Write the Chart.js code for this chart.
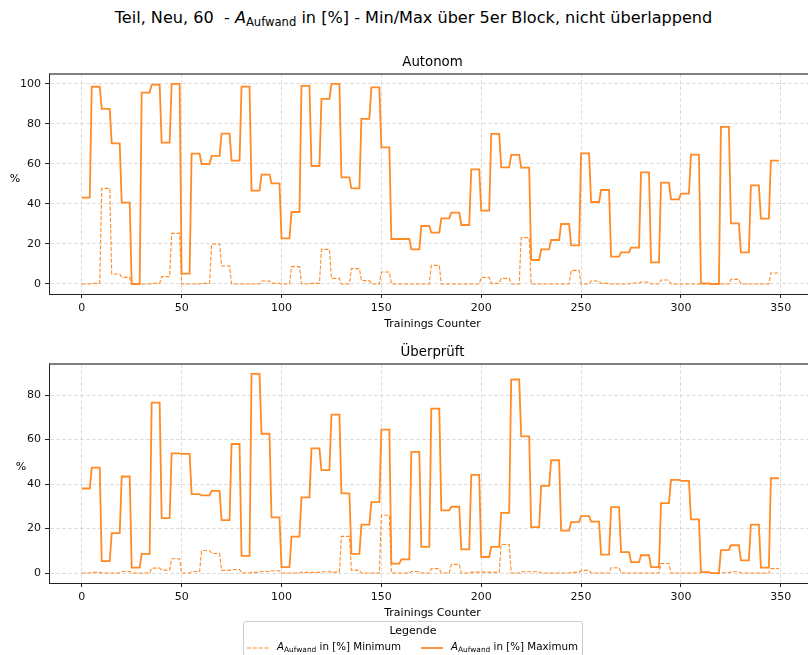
<!DOCTYPE html>
<html>
<head>
<meta charset="utf-8">
<script src="https://cdn.jsdelivr.net/npm/chart.js@4.4.1/dist/chart.umd.min.js"></script>
<style>
  html, body { margin: 0; padding: 0; background: #fff; }
  body { width: 808px; height: 655px; overflow: hidden; position: relative;
         font-family: "DejaVu Sans", sans-serif; color: #000; }
  sub { font-size: 0.72em; vertical-align: -0.28em; line-height: 0; }
  .haupttitel { position: absolute; top: 8px; left: 0; width: 827px; text-align: center;
                font-size: 16.1px; white-space: pre; }
  canvas { position: absolute; left: 0; }
  #autonom { top: 50px; }
  #geprueft { top: 340px; }
  .ylabel { position: absolute; font-size: 11px; transform: translate(-50%, -50%); }
  .legende { position: absolute; left: 243px; top: 621px; width: 338px; height: 50px;
             border: 1px solid #ccc; border-radius: 3px; background: #fff; font-size: 10.3px; }
  .legende .titel { position: absolute; left: 0; width: 100%; top: 2px; text-align: center; font-size: 11px; }
  .legende .eintrag { position: absolute; top: 18px; white-space: nowrap; }
  .legende svg { position: absolute; top: 24px; }
</style>
</head>
<body>
<div class="haupttitel">Teil, Neu, 60  - <i>A</i><sub>Aufwand</sub> in [%] - Min/Max über 5er Block, nicht überlappend</div>

<canvas id="autonom" width="816" height="290"></canvas>
<canvas id="geprueft" width="816" height="289"></canvas>

<span class="ylabel" style="left:15px; top:178px;">%</span>
<span class="ylabel" style="left:21px; top:466px;">%</span>

<div class="legende">
  <div class="titel">Legende</div>
  <svg style="left:3px" width="22" height="4"><line x1="0" y1="2" x2="22" y2="2" stroke="#ff8a26" stroke-width="1.2" stroke-dasharray="4,1.8"/></svg>
  <span class="eintrag" style="left:33px"><i>A</i><sub>Aufwand</sub> in [%] Minimum</span>
  <svg style="left:177px" width="22" height="4"><line x1="0" y1="2" x2="22" y2="2" stroke="#ff8a26" stroke-width="1.8"/></svg>
  <span class="eintrag" style="left:207px"><i>A</i><sub>Aufwand</sub> in [%] Maximum</span>
</div>

<script>
// Min/Max je 5er Block (nicht überlappend), Blockstart bei 0, 5, 10, ...
const BLOCK = 5;

const autonomMax = [43.2, 98.6, 87.5, 70.3, 40.7, 0, 95.7, 99.7, 70.7, 100,
  5.2, 65.2, 60, 64, 75.2, 61.7, 98.7, 46.7, 54.7, 50.3,
  22.8, 36, 99, 59, 92.5, 100, 53.3, 47.8, 82.5, 98.3,
  68.3, 22.5, 22.5, 17.3, 29, 25.7, 32.8, 35.7, 29.5, 57.3,
  36.7, 75, 58.3, 64.5, 58.2, 12, 17.3, 22, 30, 19.3,
  65.3, 41, 47, 13.7, 15.8, 18.2, 55.8, 10.8, 50.7, 42.3,
  45.2, 64.7, 0.3, 0, 78.5, 30.3, 15.8, 49.3, 32.7, 61.7];

const autonomMin = [0, 0.3, 47.8, 5, 3.3, 0, 0, 0.3, 3.7, 25.3,
  0, 0, 0.3, 20, 9, 0, 0, 0, 1.5, 0.3,
  0, 8.7, 0, 0.3, 17.3, 2.8, 0, 7.7, 1.7, 0,
  6, 0, 0, 0, 0, 9.3, 0, 0, 0, 0,
  3.3, 0.3, 2.8, 0, 23.2, 0, 0, 0, 0, 6.8,
  0, 1.5, 0.3, 0, 0, 0.5, 1, 0, 2, 0,
  0, 0, 0, 0, 0, 2.3, 0, 0, 0, 5.5];

const geprueftMax = [38, 47.4, 5.4, 17.9, 43.4, 2.4, 8.6, 76.6, 24.7, 53.8,
  53.6, 35.5, 34.9, 36.9, 23.8, 58, 7.7, 89.5, 62.6, 25,
  2.7, 16.4, 34, 56, 46.3, 71.2, 35.8, 8.6, 21.8, 31.9,
  64.5, 4.2, 6.1, 54.5, 11.8, 73.9, 28.2, 29.8, 10.6, 44.1,
  7.2, 11.8, 27, 87, 61.4, 20.6, 39.2, 50.7, 19.1, 22.9,
  25.6, 23.1, 8.3, 29.6, 9.4, 4.9, 8, 2.7, 31.4, 41.9,
  41.4, 24.1, 0.4, 0, 10.3, 12.5, 5.7, 21.8, 2.4, 42.6];

const geprueftMin = [0, 0.3, 0, 0, 0.7, 0, 0, 2.2, 1.3, 6.4,
  0, 0.7, 10.1, 8.8, 1.2, 1.6, 0, 0.3, 0.7, 1,
  0, 0, 0.3, 0.3, 0.6, 0.4, 16.5, 1.3, 0, 0,
  26, 0, 0, 0.7, 0, 2, 0, 3.9, 0, 0.4,
  0.4, 0.3, 12.8, 0, 0.6, 0.6, 0, 0, 0, 0.3,
  1.2, 0, 0, 2.4, 0, 0, 0, 0, 4.3, 0,
  0, 0, 0.3, 0, 0.1, 0.6, 0, 0, 0, 2];

const xTicks = [0, 50, 100, 150, 200, 250, 300, 350];

const ORANGE = '#ff8a26';
const SCHRIFT = '"DejaVu Sans", sans-serif';

// jeder Blockwert gilt fuer alle 5 Trainings des Blocks
function blockPunkte(werte) {
  const punkte = [];
  werte.forEach((v, i) => {
    punkte.push({ x: i * BLOCK, y: v });
    punkte.push({ x: i * BLOCK + BLOCK - 1, y: v });
  });
  return punkte;
}

const obererRand = {
  id: 'obererRand',
  afterDraw(chart) {
    const { ctx, chartArea } = chart;
    ctx.save();
    ctx.strokeStyle = '#555';
    ctx.lineWidth = 1.4;
    ctx.beginPath();
    ctx.moveTo(chartArea.left, chartArea.top);
    ctx.lineTo(chartArea.right, chartArea.top);
    ctx.stroke();
    ctx.restore();
  }
};

function erstelleDiagramm(id, titel, minWerte, maxWerte, yMin, yMax) {
  const ctx = document.getElementById(id).getContext('2d');
  return new Chart(ctx, {
    type: 'line',
    data: {
      datasets: [
        {
          label: 'Minimum',
          data: blockPunkte(minWerte),
          borderColor: ORANGE,
          borderWidth: 1.1,
          borderDash: [4, 1.8],
          pointRadius: 0,
          tension: 0,
          fill: false,
          order: 1
        },
        {
          label: 'Maximum',
          data: blockPunkte(maxWerte),
          borderColor: ORANGE,
          borderWidth: 1.8,
          pointRadius: 0,
          tension: 0,
          fill: false,
          order: 0
        }
      ]
    },
    options: {
      responsive: false,
      animation: false,
      layout: { padding: 0 },
      plugins: {
        legend: { display: false },
        tooltip: { enabled: false },
        title: {
          display: true,
          text: titel,
          fullSize: false,
          color: '#000',
          font: { family: SCHRIFT, size: 13.3, weight: 'normal' },
          padding: { top: 5, bottom: 3 }
        }
      },
      scales: {
        x: {
          type: 'linear',
          min: -16.4,
          max: 367.6,
          afterFit: s => { s.height = 46; },
          afterBuildTicks: s => { s.ticks = xTicks.map(v => ({ value: v })); },
          ticks: { color: '#111', padding: 4, maxRotation: 0,
                   font: { family: SCHRIFT, size: 11 } },
          grid: { color: '#d6d6d6', lineWidth: 0.8, tickLength: 4, tickColor: '#222',
                  tickWidth: 1, tickBorderDash: [] },
          border: { color: '#222', width: 1, dash: [4, 2] },
          title: { display: true, text: 'Trainings Counter', color: '#000',
                   font: { family: SCHRIFT, size: 11 }, padding: { top: 0, bottom: 9.4 } }
        },
        y: {
          min: yMin,
          max: yMax,
          afterFit: s => { s.width = 49; },
          ticks: { stepSize: 20, includeBounds: false, color: '#111', padding: 4,
                   font: { family: SCHRIFT, size: 11 } },
          grid: { color: '#d6d6d6', lineWidth: 0.8, tickLength: 4, tickColor: '#222',
                  tickWidth: 1, tickBorderDash: [] },
          border: { color: '#222', width: 1, dash: [4, 2] }
        }
      }
    },
    plugins: [obererRand]
  });
}

erstelleDiagramm('autonom', 'Autonom', autonomMin, autonomMax, -5, 105);
erstelleDiagramm('geprueft', 'Überprüft', geprueftMin, geprueftMax, -4.475, 93.975);
</script>
</body>
</html>
